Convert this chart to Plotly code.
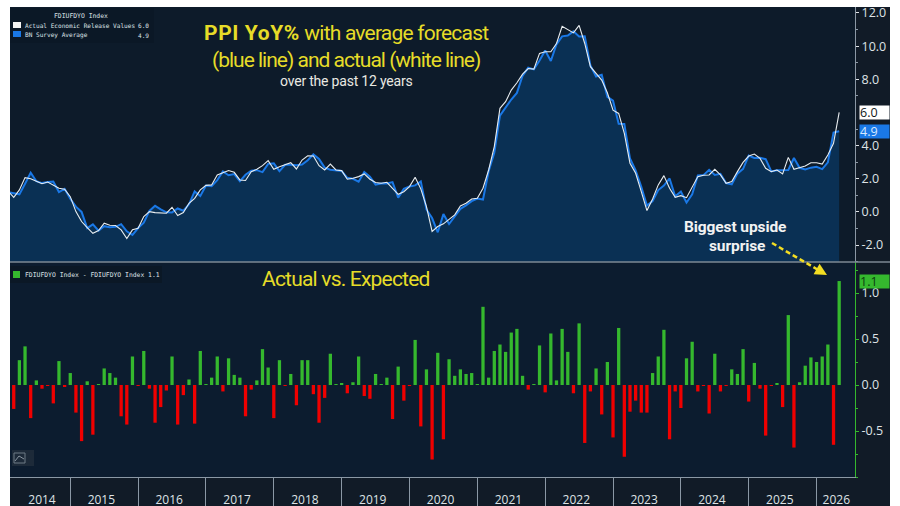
import plotly.graph_objects as go

W, H = 900, 506

# month index: 0 = Jan 2014
actual_months = list(range(1, 149))
actual = [1.25, .88, 1.33, 2.07, 2.0, 1.83, 1.7, 1.8, 1.63, 1.43, 1.37, .92, .02, -.58, -.94, -1.29, -1.12, -.68, -.8, -.82,
          -1.08, -1.6, -1.08, -.98, -.28, .02, -.04, -.08, -.08, .28, -.22, -.04, .52, .82, 1.33, 1.6, 1.63, 2.23, 2.37, 2.5,
          2.39, 1.93, 1.9, 2.43, 2.57, 2.79, 3.09, 2.57, 2.73, 2.83, 2.97, 2.59, 3.13, 3.39, 3.37, 2.79, 2.53, 2.89, 2.53, 2.49,
          1.97, 2.03, 2.13, 2.29, 1.97, 1.77, 1.73, 1.79, 1.43, 1.06, 1.22, 1.53, 2.09, 1.39, .32, -1.18, -.88, -.72, -.45, -.18,
          .36, .52, .78, .82, 1.43, 2.53, 3.94, 6.25, 6.65, 7.35, 7.79, 8.31, 8.65, 8.61, 9.56, 9.66, 9.66, 10.16, 11.2, 11.0,
          10.8, 11.25, 10.16, 8.76, 8.35, 7.95, 7.19, 6.14, 5.94, 4.74, 2.93, 2.33, 1.22, .08, .78, 1.63, 2.19, 1.43, .88, .98,
          .86, 1.53, 2.13, 2.21, 2.23, 2.57, 2.23, 1.73, 1.83, 2.43, 2.99, 3.37, 3.49, 3.23, 2.63, 2.43, 2.53, 2.29, 3.29, 2.57,
          2.69, 2.77, 2.97, 2.97, 2.89, 3.43, 4.14, 6.0]
expected = [1.2, 1.14, 1.06, 1.7, 2.36, 1.85, 1.74, 1.81, 1.83, 1.2, 1.39, .79, .32, .0, -.98, -.75, -1.13, -.86, -.93, -.9,
            -.74, -1.17, -1.39, -.97, -.65, .06, .37, .16, -.02, -.03, .21, .07, .46, 1.24, .96, 1.59, 1.55, 1.92, 2.44, 2.21,
            2.28, 1.85, 2.24, 2.48, 2.52, 2.4, 2.9, 2.93, 2.46, 2.84, 2.85, 2.81, 2.86, 3.12, 3.47, 3.2, 2.67, 2.55, 2.53, 2.47,
            2.06, 2.0, 1.82, 2.41, 2.12, 1.65, 1.72, 1.71, 1.8, .86, 1.39, 1.54, 1.6, 1.84, .15, -.37, -1.23, -.13, -.73, -.28,
            .19, .4, .65, .81, .75, 2.45, 3.57, 5.81, 6.29, 6.78, 7.18, 8.21, 8.7, 8.6, 9.13, 9.74, 9.1, 10.11, 10.59, 10.64,
            10.89, 10.58, 10.6, 8.83, 8.17, 8.27, 6.94, 6.71, 5.32, 5.3, 3.22, 2.5, 1.52, .38, .65, 1.32, 1.59, 2.02, .95, 1.23,
            .57, 1.06, 2.2, 2.22, 2.54, 2.23, 2.3, 1.74, 1.66, 2.31, 2.6, 3.4, 3.25, 3.27, 3.18, 2.44, 2.51, 2.53, 2.53, 3.25,
            2.66, 2.56, 2.67, 2.72, 2.58, 2.99, 4.79, 4.87]
surprise_months = list(range(2, 149))
surprise = [-.26, .27, .42, -.36, .05, -.04, -.01, -.2, .26, -.02, .13, -.3, -.61, .04, -.54, .01, .18, .13, .08, -.34,
            -.43, .31, -.01, .37, -.04, -.41, -.24, -.06, .31, -.43, -.11, .06, -.42, .37, .01, .08, .31, -.07, .29, .11,
            .08, -.34, -.05, .05, .39, .19, -.36, .27, -.01, .12, -.22, .27, .27, -.10, -.41, -.14, .34, .005, .02, -.09,
            .03, .31, -.12, -.15, .12, .01, .08, -.37, .2, -.17, -.01, .49, -.45, .17, -.81, .35, -.59, .28,
            .1, .17, .12, .13, .01, .85, .08, .37, .44, .36, .57, .61, .1, -.05, .01, .43, -.08, .56, .05, .61,
            .36, -.09, .67, -.63, -.07, .18, -.32, .25, -.57, .62, -.78, -.29, -.17, -.3, -.3, .13, .31, .6, -.59, -.07,
            -.25, .29, .47, -.07, -.01, -.31, .34, -.07, -.01, .17, .12, .39, -.18, .24, -.04, -.55, -.01, .02, -.24, .76,
            -.68, .03, .21, .3, .25, .31, .44, -.65, 1.13]
year_tick_months = [7, 17.5, 29.5, 41.5, 53.5, 65.5, 77.5, 89.5, 101.5, 113.5, 125.5, 137.5, 147.5]
year_labels = ["2014", "2015", "2016", "2017", "2018", "2019", "2020", "2021", "2022", "2023", "2024", "2025", "2026"]
top_ticks = [-2, 0, 2, 4, 8, 10, 12]
bottom_ticks = [-.5, 0, .5, 1]

BG = "#0d1b2a"
BG_LOW = "#0c1c2f"
STRIP = "#111b27"
FILL = "#0a3054"
BLUE = "#1a78e6"
YEL = "#e6dc28"
GREY = "#dfe3e6"
GREEN = "#35b82e"
RED = "#f00000"
AXGREY = "#8b98a5"
XMIN, XMAX = 1.34, 150.8
YTOP = [-3.02, 12.36]
YLOW = [-1.0, 1.337]
AXFONT = "Open Sans"


def px(x): return x / W
def py(y): return 1 - y / H


fig = go.Figure()
fig.add_trace(go.Scatter(x=actual_months, y=[YTOP[0]] * len(expected), mode="lines", line=dict(width=0),
                         showlegend=False, hoverinfo="skip"))
fig.add_trace(go.Scatter(x=actual_months, y=expected, mode="lines", fill="tonexty", fillcolor=FILL,
                         line=dict(color=BLUE, width=2), name="BN Survey Average"))
fig.add_trace(go.Scatter(x=actual_months, y=actual, mode="lines",
                         line=dict(color="#e8edf0", width=1.1), name="Actual Economic Release Values"))
fig.add_trace(go.Bar(x=surprise_months, y=surprise, xaxis="x2", yaxis="y2", width=0.58,
                     marker=dict(color=[GREEN if v >= 0 else RED for v in surprise], line=dict(width=0)),
                     name="FDIUFDYO Index - FDIUFDYO Index"))
# pointers of the last-value tags
fig.add_trace(go.Scatter(x=[XMAX + 0.75], y=[actual[-1]], mode="markers", cliponaxis=False, showlegend=False,
                         marker=dict(symbol="triangle-left", size=9, color="#ffffff")))
fig.add_trace(go.Scatter(x=[XMAX + 0.75], y=[expected[-1]], mode="markers", cliponaxis=False, showlegend=False,
                         marker=dict(symbol="triangle-left", size=9, color=BLUE)))
fig.add_trace(go.Scatter(x=[XMAX + 0.75], y=[surprise[-1]], xaxis="x2", yaxis="y2", mode="markers", cliponaxis=False,
                         showlegend=False, marker=dict(symbol="triangle-left", size=9, color=GREEN)))


def rect(x0, y0, x1, y1, color):
    return dict(type="rect", xref="paper", yref="paper", x0=px(x0), x1=px(x1), y0=py(y0), y1=py(y1),
                fillcolor=color, line=dict(width=0), layer="below")


shapes = [
    rect(10, 7, 890, 506, STRIP),
    rect(10, 7, 855, 262, BG),
    rect(10, 262, 855, 477, BG_LOW),
    rect(10, 8, 154, 43, "#0b1826"),
    rect(10, 266, 162, 283, "#0b1826"),
    dict(type="line", xref="paper", yref="paper", x0=px(10), x1=px(890), y0=py(262), y1=py(262),
         line=dict(color="#7d8894", width=1.5)),
    dict(type="rect", xref="paper", yref="paper", x0=px(13), x1=px(21), y0=py(22), y1=py(28),
         fillcolor="#f4f4f4", line=dict(width=0)),
    dict(type="rect", xref="paper", yref="paper", x0=px(13), x1=px(21), y0=py(31), y1=py(37),
         fillcolor=BLUE, line=dict(width=0)),
    dict(type="rect", xref="paper", yref="paper", x0=px(13), x1=px(20), y0=py(271), y1=py(278),
         fillcolor=GREEN, line=dict(width=0)),
    dict(type="rect", xref="paper", yref="paper", x0=px(12), x1=px(34), y0=py(450), y1=py(466),
         fillcolor="#1d2a39", line=dict(width=0)),
    dict(type="rect", xref="paper", yref="paper", x0=px(14), x1=px(25), y0=py(453), y1=py(463),
         fillcolor="rgba(0,0,0,0)", line=dict(color="#6f7a86", width=1)),
    dict(type="line", xref="paper", yref="paper", x0=px(15), x1=px(19), y0=py(461), y1=py(456),
         line=dict(color="#8a95a0", width=1)),
    dict(type="line", xref="paper", yref="paper", x0=px(19), x1=px(24), y0=py(456), y1=py(459),
         line=dict(color="#8a95a0", width=1)),
    dict(type="line", xref="paper", yref="paper", x0=px(772), x1=px(820), y0=py(243), y1=py(271),
         line=dict(color="#f3dd22", width=2.5, dash="5px,3px")),
]


def note(x, y, text, size, color, family="Roboto", xanchor="center", **kw):
    return dict(xref="paper", yref="paper", x=px(x), y=py(y), text=text, showarrow=False, xanchor=xanchor,
                yanchor="middle", font=dict(size=size, color=color, family=family), **kw)


def tight(text, spacing):
    return f'<span style="letter-spacing:{spacing}px">{text}</span>'


MONO = "DejaVu Sans Mono"
annotations = [
    note(346, 33, tight("<b>PPI YoY%</b>", 0.6) + tight(" with average forecast", -0.8), 21, YEL),
    note(346, 60, tight("(blue line) and actual (white line)", -1.0), 21, YEL),
    note(346, 81, tight("over the past 12 years", -0.2), 14, "#e9e9e2"),
    note(346, 279, tight("Actual vs. Expected", -0.8), 21, YEL),
    note(735, 227, tight("<b>Biggest upside</b>", -0.1), 15.5, "#f2f2f2"),
    note(737, 246, tight("<b>surprise</b>", -0.1), 15.5, "#f2f2f2"),
    note(81, 16, "FDIUFDYO Index", 6.4, GREY, MONO),
    note(23, 25, "Actual Economic Release Values", 6.1, GREY, MONO, "left"),
    note(151, 25, "6.0", 6.1, GREY, MONO, "right"),
    note(23, 35, "BN Survey Average", 6.1, GREY, MONO, "left"),
    note(151, 35, "4.9", 6.1, GREY, MONO, "right"),
    note(23, 275, "FDIUFDYO Index - FDIUFDYO Index 1.1", 6.4, GREY, MONO, "left"),
    dict(xref="paper", yref="paper", x=px(827), y=py(275), ax=-7, ay=-4,
         text="", showarrow=True, arrowhead=2, arrowsize=1.2, arrowwidth=2, arrowcolor="#f3dd22"),
]
for yref, val, bg, fg in [("y", actual[-1], "#ffffff", "#101820"), ("y", expected[-1], BLUE, "#d8e8ff"),
                          ("y2", surprise[-1], GREEN, "#0c3b10")]:
    annotations.append(dict(xref="paper", yref=yref, x=px(859), y=val, text=f"{val:.1f}", showarrow=False, xanchor="left",
                            yanchor="middle", width=29, align="left", height=13, borderpad=0, bgcolor=bg,
                            font=dict(size=12.5, color=fg, family=AXFONT)))

fig.update_layout(
    width=W, height=H, autosize=False, margin=dict(l=0, r=0, t=0, b=0),
    paper_bgcolor="#ffffff", plot_bgcolor="rgba(0,0,0,0)", showlegend=False, barmode="overlay",
    shapes=shapes, annotations=annotations,
    font=dict(family=AXFONT, color=GREY),
    xaxis=dict(domain=[px(10), px(855)], range=[XMIN, XMAX], anchor="y", showticklabels=False, ticks="",
               showgrid=False, zeroline=False, showline=False, automargin=False),
    xaxis2=dict(domain=[px(10), px(855)], range=[XMIN, XMAX], anchor="y2", showgrid=False, zeroline=False, automargin=False,
                showline=True, linecolor=AXGREY, linewidth=1.2, tickmode="array", tickvals=year_tick_months,
                ticktext=year_labels, ticks="", ticklabelstandoff=11, tickfont=dict(size=12, color=GREY),
                minor=dict(tick0=0, dtick=12, ticks="outside", ticklen=29, tickcolor=AXGREY, tickwidth=1)),
    yaxis=dict(domain=[py(262), py(7)], range=YTOP, anchor="x", side="right", showgrid=False, zeroline=False, automargin=False,
               showline=True, linecolor=AXGREY, linewidth=1, tickmode="array", tickvals=top_ticks,
               ticktext=[f"{v:.1f}" for v in top_ticks], ticks="outside", ticklen=3, tickcolor=GREY,
               tickfont=dict(size=12.5, color=GREY),
               minor=dict(tickmode="array", tickvals=[-3, -1, 1, 3, 5, 7, 9, 11], ticks="outside", ticklen=2, tickcolor=AXGREY)),
    yaxis2=dict(domain=[py(477), py(262)], range=YLOW, anchor="x2", side="right", showgrid=False, zeroline=False, automargin=False,
                showline=True, linecolor=GREEN, linewidth=1, tickmode="array", tickvals=bottom_ticks,
                ticktext=["-0.5", "0.0", "0.5", "1.0"], ticks="outside", ticklen=3, tickcolor=GREEN,
                tickfont=dict(size=12.5, color=GREY),
                minor=dict(tickmode="array", tickvals=[-1, -.75, -.25, .25, .75, 1.25], ticks="outside", ticklen=2, tickcolor=GREEN)),
)

fig.write_html("out.html", config=dict(displayModeBar=False),
               post_script="document.body.style.margin='0';document.documentElement.style.overflow='hidden';")
